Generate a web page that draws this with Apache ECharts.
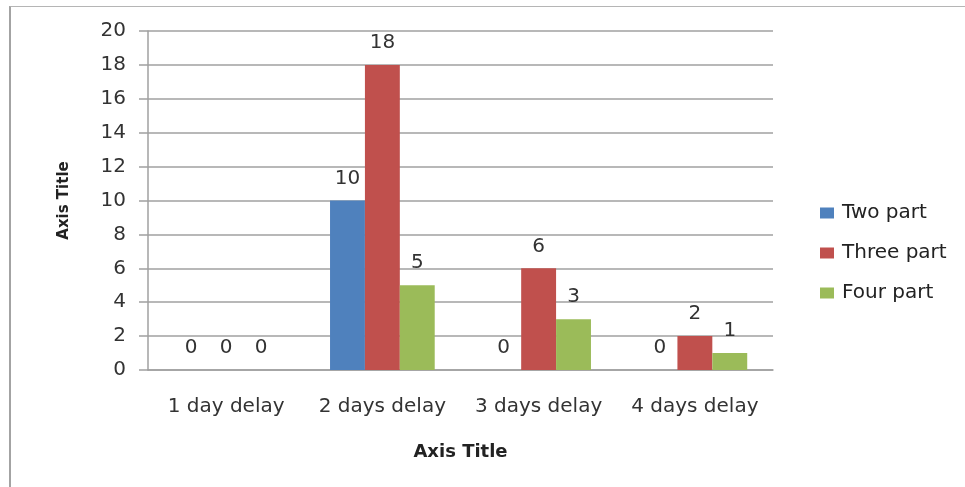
<!DOCTYPE html>
<html>
<head>
<meta charset="utf-8">
<script src="https://cdn.jsdelivr.net/npm/echarts@6/dist/echarts.min.js"></script>
<style>
  html, body { margin: 0; padding: 0; background: #ffffff; }
  #chart { position: absolute; left: 0; top: 0; width: 965px; height: 487px; }
  #frame {
    position: absolute; left: 9px; top: 6px; right: 0; bottom: 0;
    border-left: 2px solid #a3a3a3; border-top: 1px solid #b5b5b5;
    pointer-events: none;
  }
</style>
</head>
<body>
<div id="chart"></div>
<div id="frame"></div>
<script>
// Delay categories and counts per part type
const categories = ['1 day delay', '2 days delay', '3 days delay', '4 days delay'];
const twoPart = [0, 10, 0, 0];
const threePart = [0, 18, 6, 2];
const fourPart = [0, 5, 3, 1];
const seriesNames = ['Two part', 'Three part', 'Four part'];
const yTicks = { min: 0, max: 20, interval: 2 };

const FONT = 'DejaVu Sans';
const GRID_COLOR = '#a0a0a0';

const chart = echarts.init(document.getElementById('chart'), null, { renderer: 'canvas' });

const labelStyle = {
  show: true,
  position: 'top',
  distance: 12,
  fontFamily: FONT,
  fontSize: 20,
  color: '#333333'
};

function barSeries(name, data, color) {
  return {
    name: name,
    type: 'bar',
    data: data,
    barGap: '0%',
    barCategoryGap: '33%',
    itemStyle: { color: color },
    label: labelStyle
  };
}

chart.setOption({
  animation: false,
  backgroundColor: '#ffffff',
  grid: { left: 148, right: 192, top: 31, bottom: 117, containLabel: false },
  legend: {
    orient: 'vertical',
    left: 815,
    top: 197,
    icon: 'rect',
    itemWidth: 14,
    itemHeight: 11,
    itemGap: 18,
    textStyle: { fontFamily: FONT, fontSize: 20, color: '#222222', lineHeight: 22, padding: [0, 0, 0, 3] },
    data: seriesNames
  },
  xAxis: {
    type: 'category',
    data: categories,
    name: 'Axis Title',
    nameLocation: 'middle',
    nameGap: 73,
    nameTextStyle: { fontFamily: FONT, fontSize: 18, fontWeight: 'bold', color: '#222222' },
    axisLine: { lineStyle: { color: GRID_COLOR, width: 1.5 } },
    axisTick: { show: false },
    axisLabel: { interval: 0, fontFamily: FONT, fontSize: 20, color: '#333333', margin: 27 }
  },
  yAxis: {
    type: 'value',
    min: yTicks.min,
    max: yTicks.max,
    interval: yTicks.interval,
    name: 'Axis Title',
    nameLocation: 'middle',
    nameGap: 76,
    nameRotate: 90,
    nameTextStyle: { fontFamily: FONT, fontSize: 15, fontWeight: 'bold', color: '#222222' },
    axisLine: { show: true, lineStyle: { color: GRID_COLOR, width: 1.5 } },
    axisTick: { show: true, length: 9, lineStyle: { color: GRID_COLOR, width: 1.5 } },
    axisLabel: { fontFamily: FONT, fontSize: 20, color: '#333333', margin: 22 },
    splitLine: { show: true, lineStyle: { color: GRID_COLOR, width: 1.5 } }
  },
  series: [
    barSeries(seriesNames[0], twoPart, '#4f81bd'),
    barSeries(seriesNames[1], threePart, '#c0504d'),
    barSeries(seriesNames[2], fourPart, '#9bbb59')
  ]
});
</script>
</body>
</html>
